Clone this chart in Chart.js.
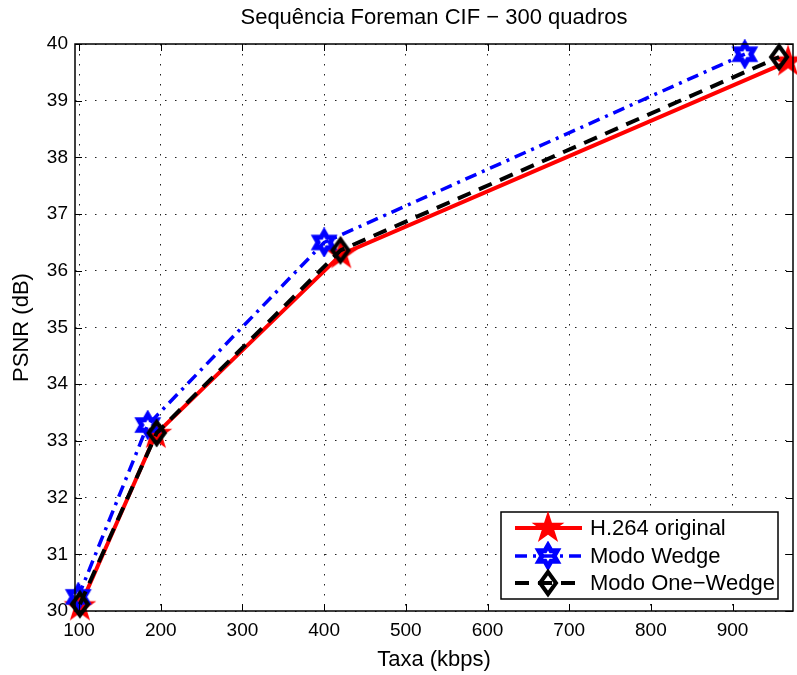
<!DOCTYPE html>
<html lang="pt">
<head>
<meta charset="utf-8">
<title>Sequência Foreman CIF</title>
<script src="https://cdn.jsdelivr.net/npm/chart.js"></script>
<style>
  html, body { margin: 0; padding: 0; background: #fff; }
  #wrap { width: 797px; height: 675px; }
</style>
</head>
<body>
<div id="wrap"><canvas id="psnrChart" width="797" height="675"></canvas></div>
<script>
// dados
const xTicks = [100, 200, 300, 400, 500, 600, 700, 800, 900];
const rateH264 = [101, 194, 421, 968];
const psnrH264 = [30.08, 33.12, 36.29, 39.69];
const rateWedge = [99, 184, 400, 915];
const psnrWedge = [30.25, 33.28, 36.50, 39.82];
const rateOneWedge = [101, 195, 420, 957];
const psnrOneWedge = [30.12, 33.14, 36.36, 39.77];
const seriesNames = ['H.264 original', 'Modo Wedge', 'Modo One\u2212Wedge'];

const FONT = "'Liberation Sans', Arial, Helvetica, sans-serif";

// marcadores estilo MATLAB
function makeMarker(size, draw) {
    const c = document.createElement('canvas');
    c.width = size; c.height = size;
    draw(c.getContext('2d'), size / 2);
    return c;
}
function starPath(ctx, c, n, R, r) {
    ctx.beginPath();
    for (let i = 0; i < 2 * n; i++) {
        const a = -Math.PI / 2 + i * Math.PI / n;
        const rad = i % 2 === 0 ? R : r;
        ctx.lineTo(c + rad * Math.cos(a), c + rad * Math.sin(a));
    }
    ctx.closePath();
}
const pentagram = makeMarker(34, (ctx, c) => {
    starPath(ctx, c, 5, 14, 14 * 0.382);
    ctx.fillStyle = '#ff0000';
    ctx.fill();
    ctx.lineWidth = 2;
    ctx.strokeStyle = '#ff0000';
    ctx.stroke();
});
const hexagram = makeMarker(30, (ctx, c) => {
    starPath(ctx, c, 6, 10.5, 10.5 / Math.sqrt(3));
    ctx.lineWidth = 5;
    ctx.strokeStyle = '#0000ff';
    ctx.stroke();
});
const diamond = makeMarker(32, (ctx, c) => {
    ctx.beginPath();
    ctx.moveTo(c, c - 11);
    ctx.lineTo(c + 8, c);
    ctx.lineTo(c, c + 11);
    ctx.lineTo(c - 8, c);
    ctx.closePath();
    ctx.lineWidth = 4;
    ctx.strokeStyle = '#000000';
    ctx.stroke();
});

function toPoints(xs, ys) {
    return xs.map((x, i) => ({ x: x, y: ys[i] }));
}

// moldura, marcas internas e legenda
const framePlugin = {
    id: 'matlabFrame',
    afterDatasetsDraw(chart) {
        const { ctx, chartArea: a, scales: { x, y } } = chart;
        ctx.save();
        ctx.strokeStyle = '#000';
        ctx.lineWidth = 1;
        ctx.setLineDash([]);
        ctx.beginPath();
        const tl = 7;
        xTicks.forEach(v => {
            const px = Math.round(x.getPixelForValue(v)) + 0.5;
            ctx.moveTo(px, a.bottom); ctx.lineTo(px, a.bottom - tl);
            ctx.moveTo(px, a.top); ctx.lineTo(px, a.top + tl);
        });
        y.ticks.forEach(t => {
            const py = Math.round(y.getPixelForValue(t.value)) + 0.5;
            ctx.moveTo(a.left, py); ctx.lineTo(a.left + tl, py);
            ctx.moveTo(a.right, py); ctx.lineTo(a.right - tl, py);
        });
        ctx.stroke();
        ctx.lineWidth = 1.5;
        ctx.strokeRect(a.left, a.top, a.right - a.left, a.bottom - a.top);

        // legenda
        const bx = 501, by = 512, bw = 277, bh = 87;
        ctx.fillStyle = '#fff';
        ctx.fillRect(bx, by, bw, bh);
        ctx.lineWidth = 1.5;
        ctx.strokeRect(bx, by, bw, bh);
        const rows = [528, 556, 583];
        chart.data.datasets.forEach((ds, i) => {
            const ry = rows[i];
            ctx.save();
            ctx.strokeStyle = ds.borderColor;
            ctx.lineWidth = ds.borderWidth;
            ctx.setLineDash(ds.borderDash || []);
            ctx.beginPath();
            ctx.moveTo(515, ry);
            ctx.lineTo(582, ry);
            ctx.stroke();
            ctx.restore();
            const m = ds.pointStyle;
            ctx.drawImage(m, 548 - m.width / 2, ry - m.height / 2);
            ctx.fillStyle = '#000';
            ctx.font = '22px ' + FONT;
            ctx.textBaseline = 'middle';
            ctx.textAlign = 'left';
            ctx.fillText(ds.label, 590, ry + 1);
        });
        ctx.restore();
    }
};

const gridDash = [1.5, 8.5];

new Chart(document.getElementById('psnrChart'), {
    type: 'line',
    data: {
        datasets: [
            {
                label: seriesNames[0],
                data: toPoints(rateH264, psnrH264),
                borderColor: '#ff0000',
                borderWidth: 4,
                pointStyle: pentagram,
                order: 3
            },
            {
                label: seriesNames[1],
                data: toPoints(rateWedge, psnrWedge),
                borderColor: '#0000ff',
                borderWidth: 3.5,
                borderDash: [12, 6, 3, 6],
                pointStyle: hexagram,
                order: 2
            },
            {
                label: seriesNames[2],
                data: toPoints(rateOneWedge, psnrOneWedge),
                borderColor: '#000000',
                borderWidth: 4,
                borderDash: [14, 9],
                pointStyle: diamond,
                order: 1
            }
        ]
    },
    options: {
        responsive: false,
        animation: false,
        events: [],
        clip: false,
        // marcadores são imagens; raio pequeno evita margem extra do layout
        pointRadius: 1,
        pointBorderWidth: 0,
        pointHoverRadius: 1,
        pointHoverBorderWidth: 0,
        elements: {
            line: { tension: 0, fill: false, borderCapStyle: 'butt', borderJoinStyle: 'miter' },
            point: { radius: 1, borderWidth: 0, hoverRadius: 1, hoverBorderWidth: 0 }
        },
        layout: { padding: { left: 0, right: 4, top: 0, bottom: 0 } },
        plugins: {
            legend: { display: false },
            tooltip: { enabled: false }
        },
        scales: {
            x: {
                type: 'linear',
                min: 95,
                max: 974,
                afterBuildTicks: s => { s.ticks = xTicks.map(v => ({ value: v })); },
                afterFit: s => { s.height = 64; s.paddingLeft = 0; s.paddingRight = 0; },
                grid: { color: '#222', lineWidth: 1, drawTicks: false },
                border: { display: false, dash: gridDash },
                ticks: {
                    color: '#000',
                    padding: 8,
                    maxRotation: 0,
                    autoSkip: false,
                    font: { family: FONT, size: 19 }
                },
                title: {
                    display: true,
                    text: 'Taxa (kbps)',
                    color: '#000',
                    font: { family: FONT, size: 22 },
                    padding: { top: 0, bottom: 2 }
                }
            },
            // eixo superior só para o título, centrado sobre a área do gráfico
            top: {
                type: 'linear',
                position: 'top',
                min: 95,
                max: 974,
                afterFit: s => { s.height = 44; s.paddingLeft = 0; s.paddingRight = 0; },
                grid: { display: false, drawTicks: false },
                border: { display: false },
                ticks: { display: false },
                title: {
                    display: true,
                    text: 'Sequência Foreman CIF \u2212 300 quadros',
                    color: '#000',
                    font: { family: FONT, size: 22 },
                    padding: { top: 5, bottom: 0 }
                }
            },
            y: {
                min: 30,
                max: 40,
                afterFit: s => { s.width = 75; },
                grid: { color: '#222', lineWidth: 1, drawTicks: false },
                border: { display: false, dash: gridDash },
                ticks: {
                    stepSize: 1,
                    color: '#000',
                    padding: 7,
                    font: { family: FONT, size: 19 }
                },
                title: {
                    display: true,
                    text: 'PSNR (dB)',
                    color: '#000',
                    font: { family: FONT, size: 22 },
                    padding: { top: 9, bottom: 0 }
                }
            }
        }
    },
    plugins: [framePlugin]
});
</script>
</body>
</html>
